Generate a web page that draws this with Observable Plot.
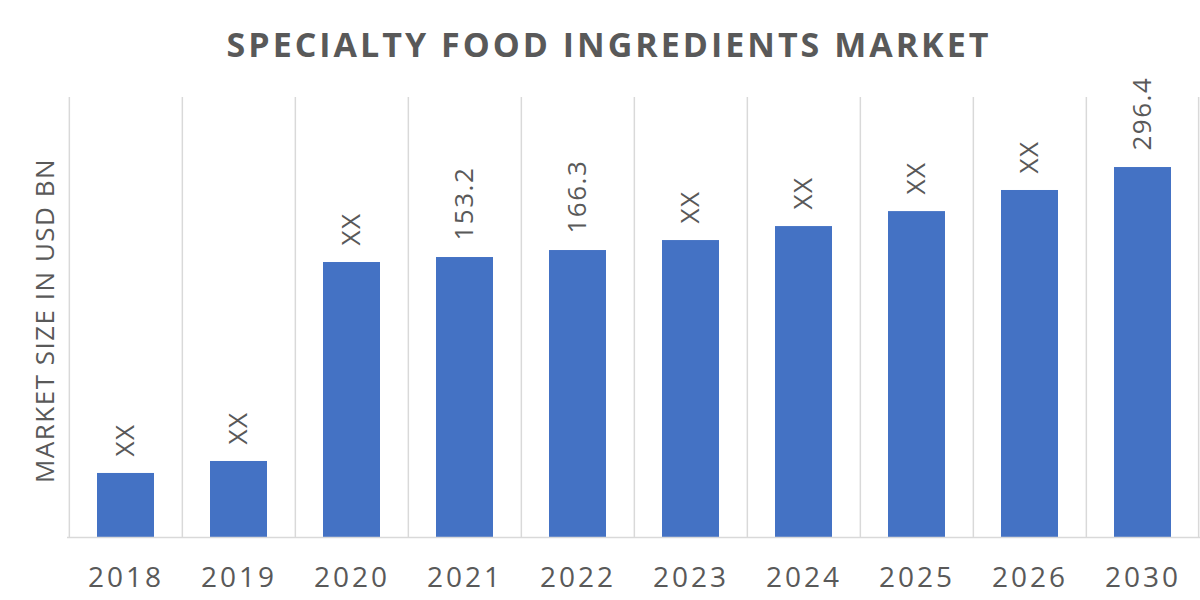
<!DOCTYPE html>
<html>
<head>
<meta charset="utf-8">
<script src="https://cdn.jsdelivr.net/npm/d3@7"></script>
<script src="https://cdn.jsdelivr.net/npm/@observablehq/plot@0.6"></script>
<style>
  html, body { margin: 0; padding: 0; background: #fff; width: 1200px; height: 600px; overflow: hidden; }
  #title {
    height: 80px; box-sizing: border-box; padding-top: 27px; padding-left: 18px;
    text-align: center; font-family: "Open Sans", sans-serif; font-weight: 700;
    font-size: 34px; line-height: 1; letter-spacing: 3px; color: #595959; white-space: nowrap;
  }
  .chart g[aria-label="x-axis tick label"] text { letter-spacing: 3px; }
  .chart g[aria-label="text"] text { letter-spacing: 1.5px; }
</style>
</head>
<body>
<div id="title">SPECIALTY FOOD INGREDIENTS MARKET</div>
<div id="chart"></div>
<script>
// Categories (x axis tick labels)
const years = ["2018", "2019", "2020", "2021", "2022", "2023", "2024", "2025", "2026", "2030"];
// Bar heights as drawn in the picture (the picture's bars are not to scale with the printed labels)
const barHeights = [51.3, 60.9, 220.3, 224.3, 229.9, 237.9, 249.1, 261.1, 278.0, 296.4];
// Data labels printed above the bars
const barLabels = ["XX", "XX", "XX", "153.2", "166.3", "XX", "XX", "XX", "XX", "296.4"];
const yTitle = "MARKET SIZE IN USD BN";
const yMax = 352.5;

const data = years.map((y, i) => ({ year: y, value: barHeights[i], label: barLabels[i] }));

const W = 1200, H = 520, mL = 67, mR = 0, mT = 17, mB = 63;
const step = (W - mL - mR) / years.length;
const gray = "#595959";

const chart = Plot.plot({
  className: "chart",
  width: W, height: H,
  marginLeft: mL, marginRight: mR, marginTop: mT, marginBottom: mB,
  style: { fontFamily: "'Open Sans', sans-serif", color: gray, background: "#fff", overflow: "visible" },
  x: { domain: years, paddingInner: 0.5, paddingOuter: 0.25, label: null },
  y: { domain: [0, yMax], axis: null },
  marks: [
    Plot.ruleX(years, { x: d => d, dx: -step / 2, stroke: "#d9d9d9", strokeWidth: 1.5 }),
    Plot.ruleX(years.slice(-1), { x: d => d, dx: step / 2 - 1, stroke: "#d9d9d9", strokeWidth: 1.5 }),
    Plot.barY(data, { x: "year", y: "value", fill: "#4472c4" }),
    Plot.ruleY([0], { stroke: "#d9d9d9", strokeWidth: 1.5 }),
    Plot.text(data, {
      x: "year", y: "value", text: "label", rotate: -90, textAnchor: "start",
      dy: -17, fontSize: 26, fill: gray
    }),
    Plot.text([yTitle], {
      frameAnchor: "left", textAnchor: "middle", rotate: -90, dx: -22, dy: 3,
      fontSize: 26, fill: gray, text: d => d
    }),
    Plot.axisX({ tickSize: 0, tickPadding: 30, fontSize: 28, label: null, fill: gray })
  ]
});
document.getElementById("chart").appendChild(chart);
</script>
</body>
</html>
